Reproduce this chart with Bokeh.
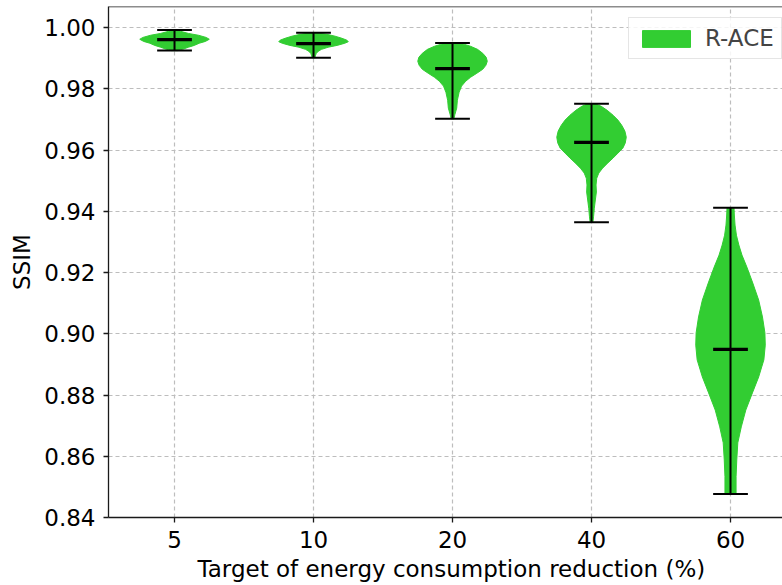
import numpy as np
from bokeh.plotting import figure
from bokeh.models import (FixedTicker, PrintfTickFormatter, Span, Legend,
                          LegendItem, Range1d, Title)
from bokeh.embed import file_html
from bokeh.resources import INLINE

# ---------------- data ----------------
categories = ["5", "10", "20", "40", "60"]
positions = [1, 2, 3, 4, 5]
y_ticks = [0.84, 0.86, 0.88, 0.90, 0.92, 0.94, 0.96, 0.98, 1.00]

mins = [0.9925, 0.9902, 0.9702, 0.9364, 0.8477]
maxs = [0.9992, 0.9983, 0.9950, 0.9751, 0.9412]
medians = [0.9961, 0.9948, 0.9866, 0.9625, 0.8949]

# violin outlines: SSIM level and relative density (1 = widest point)
ssim_5 = [0.9992, 0.9988, 0.9981, 0.9975, 0.9968, 0.9962, 0.9955, 0.9949, 0.9942, 0.9936, 0.9929, 0.9925]
dens_5 = [0.06, 0.17, 0.40, 0.69, 0.91, 1.00, 0.89, 0.71, 0.57, 0.40, 0.23, 0.09]

ssim_10 = [0.9983, 0.9978, 0.9972, 0.9965, 0.9959, 0.9954, 0.9949, 0.9942, 0.9936, 0.9929, 0.9923, 0.9916, 0.9910, 0.9902]
dens_10 = [0.08, 0.39, 0.62, 0.82, 0.96, 1.00, 0.90, 0.68, 0.42, 0.23, 0.14, 0.08, 0.06, 0.04]

ssim_20 = [0.9950, 0.9945, 0.9939, 0.9929, 0.9916, 0.9903, 0.9890, 0.9877, 0.9864, 0.9851, 0.9838,
           0.9825, 0.9809, 0.9789, 0.9763, 0.9737, 0.9717, 0.9702]
dens_20 = [0.17, 0.35, 0.52, 0.72, 0.87, 0.97, 1.00, 0.96, 0.87, 0.70, 0.52, 0.38, 0.26, 0.19,
           0.14, 0.12, 0.07, 0.04]

ssim_40 = [0.9751, 0.9743, 0.9730, 0.9714, 0.9698, 0.9681, 0.9662, 0.9642, 0.9623, 0.9606, 0.9590,
           0.9574, 0.9557, 0.9541, 0.9525, 0.9508, 0.9486, 0.9463, 0.9437, 0.9410, 0.9384, 0.9364]
dens_40 = [0.11, 0.28, 0.45, 0.62, 0.76, 0.87, 0.96, 1.00, 0.97, 0.90, 0.76, 0.62, 0.46, 0.32,
           0.21, 0.15, 0.13, 0.14, 0.11, 0.08, 0.06, 0.04]

ssim_60 = [0.9412, 0.9388, 0.9355, 0.9322, 0.9290, 0.9257, 0.9218, 0.9166, 0.9110, 0.9055, 0.9003,
           0.8963, 0.8915, 0.8859, 0.8807, 0.8751, 0.8696, 0.8644, 0.8588, 0.8533, 0.8477]
dens_60 = [0.10, 0.11, 0.13, 0.17, 0.24, 0.33, 0.47, 0.64, 0.81, 0.92, 0.99, 1.00, 0.96, 0.81,
           0.63, 0.44, 0.31, 0.21, 0.18, 0.16, 0.16]

profiles_ssim = [ssim_5, ssim_10, ssim_20, ssim_40, ssim_60]
profiles_dens = [dens_5, dens_10, dens_20, dens_40, dens_60]

series_label = "R-ACE"
x_title = "Target of energy consumption reduction (%)"
y_title = "SSIM"

# ---------------- styling ----------------
GREEN = "#32CD32"
FONT = "DejaVu Sans"
FS = "23px"
AX = "#1a1a1a"
HALF = 0.25      # max half width of a violin (x units)
CAP = 0.125      # half length of caps / median bar

p = figure(width=782, height=585, output_backend="svg", toolbar_location=None,
           x_range=Range1d(0.525, 5.374), y_range=Range1d(0.84, 1.0069),
           min_border_left=108, min_border_right=0, min_border_top=6, min_border_bottom=68)
p.outline_line_color = None
p.background_fill_color = "white"

# grid
for g in (p.xgrid, p.ygrid):
    g.grid_line_color = "#bdbdbd"
    g.grid_line_dash = "4 3"
    g.grid_line_width = 1.2
p.xgrid.ticker = FixedTicker(ticks=positions)
p.ygrid.ticker = FixedTicker(ticks=y_ticks)

# axes
p.xaxis.ticker = FixedTicker(ticks=positions)
p.xaxis.major_label_overrides = {pos: c for pos, c in zip(positions, categories)}
p.yaxis.ticker = FixedTicker(ticks=y_ticks)
p.yaxis.formatter = PrintfTickFormatter(format="%.2f")
for ax in (p.xaxis, p.yaxis):
    ax.axis_line_color = AX
    ax.axis_line_width = 1.3
    ax.major_tick_line_color = AX
    ax.major_tick_line_width = 1.3
    ax.major_tick_out = 5
    ax.major_tick_in = 0
    ax.minor_tick_line_color = None
    ax.major_label_text_font = FONT
    ax.major_label_text_font_size = FS
    ax.major_label_text_color = "black"
p.xaxis.major_label_standoff = 8
p.yaxis.major_label_standoff = 8
p.yaxis.axis_label = y_title
p.yaxis.axis_label_text_font = FONT
p.yaxis.axis_label_text_font_size = FS
p.yaxis.axis_label_text_font_style = "normal"
p.yaxis.axis_label_text_color = "black"
p.yaxis.axis_label_standoff = 6

# x title (left-aligned with pixel offset so it is centred on the full axes)
p.add_layout(Title(text=x_title, align="left", offset=89, text_font=FONT,
                   text_font_size=FS, text_font_style="normal", text_color="black",
                   standoff=7), "below")

# top border
p.add_layout(Span(location=1.0069, dimension="width", line_color=AX, line_width=1.3))

# violins
xs, ys = [], []
for pos, s, d in zip(positions, profiles_ssim, profiles_dens):
    s = np.array(s)
    d = np.array(d)
    right = pos + HALF * d
    left = pos - HALF * d
    xs.append(list(right) + list(left[::-1]))
    ys.append(list(s) + list(s[::-1]))
vr = p.patches(xs, ys, fill_color=GREEN, line_color=GREEN, line_width=1)

# whiskers, caps and medians
p.segment(x0=positions, y0=mins, x1=positions, y1=maxs, line_color="black", line_width=2)
p.segment(x0=[x - CAP for x in positions], y0=maxs, x1=[x + CAP for x in positions], y1=maxs,
          line_color="black", line_width=2)
p.segment(x0=[x - CAP for x in positions], y0=mins, x1=[x + CAP for x in positions], y1=mins,
          line_color="black", line_width=2)
p.segment(x0=[x - CAP for x in positions], y0=medians, x1=[x + CAP for x in positions], y1=medians,
          line_color="black", line_width=3.2)

# legend
legend = Legend(items=[LegendItem(label=series_label, renderers=[vr])], location=(520, 458))
legend.border_line_color = "#cccccc"
legend.border_line_width = 1
legend.background_fill_alpha = 0.85
legend.label_text_font = FONT
legend.label_text_font_size = FS
legend.glyph_width = 60
legend.glyph_height = 21
legend.label_standoff = 9
legend.padding = 7
legend.margin = 0
p.add_layout(legend)

open("out.html", "w").write(file_html(p, INLINE))
